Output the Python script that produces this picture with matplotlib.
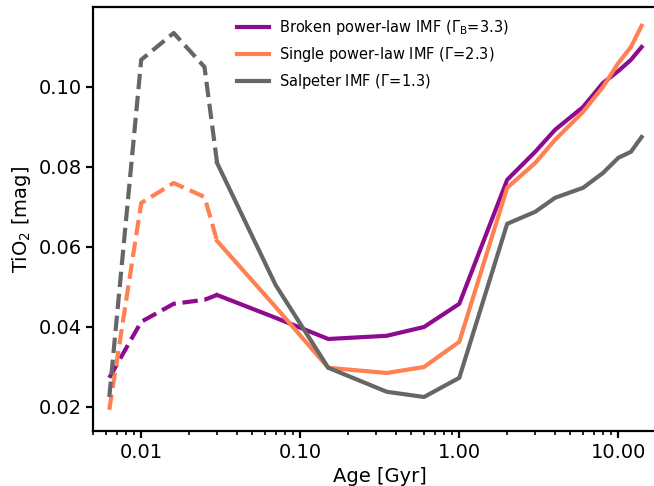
import numpy as np
import matplotlib
matplotlib.use("Agg")
import matplotlib.pyplot as plt
from matplotlib.ticker import FixedLocator, FormatStrFormatter, LogLocator, NullFormatter

# ages [Gyr] and TiO2 index for each IMF
age = [0.0063, 0.01, 0.016, 0.025, 0.03, 0.07, 0.15, 0.35, 0.6, 1.0,
       2.0, 3.0, 4.0, 6.0, 8.0, 10.0, 12.0, 14.0]
tio2_broken = [0.0273, 0.0413, 0.0458, 0.0468, 0.048, 0.0423, 0.037, 0.0378, 0.040, 0.0458,
               0.0768, 0.0838, 0.0893, 0.095, 0.101, 0.104, 0.1068, 0.110]
tio2_single = [0.0193, 0.071, 0.076, 0.0725, 0.0615, 0.045, 0.0298, 0.0285, 0.030, 0.0363,
               0.0748, 0.081, 0.0868, 0.0938, 0.100, 0.106, 0.110, 0.1153]
tio2_salp = [0.0225, 0.1068, 0.1135, 0.105, 0.081, 0.0505, 0.0298, 0.0238, 0.0225, 0.0273,
             0.0658, 0.0688, 0.0723, 0.0748, 0.0785, 0.0823, 0.0838, 0.0875]

labels = [r'Broken power-law IMF ($\Gamma_{\rm B}$=3.3)',
          r'Single power-law IMF ($\Gamma$=2.3)',
          r'Salpeter IMF ($\Gamma$=1.3)']
colors = ['#8e0a8e', '#ff8050', '#666666']
age_cut = 0.03  # young ages drawn dashed

fig = plt.figure(figsize=(6.54, 4.86), dpi=100)
ax = fig.add_axes([0.1427, 0.1132, 0.876, 0.8724])

a = np.array(age)
young = a <= age_cut
old = a >= age_cut
for y, c, lab in zip([tio2_broken, tio2_single, tio2_salp], colors, labels):
    y = np.array(y)
    ax.plot(a[young], y[young], color=c, lw=3, ls='--')
    ax.plot(a[old], y[old], color=c, lw=3, label=lab)

ax.set_xscale('log')
ax.set_xlim(0.005, 20)
ax.set_ylim(0.014, 0.12)
ax.xaxis.set_major_locator(FixedLocator([0.01, 0.1, 1.0, 10.0]))
ax.xaxis.set_major_formatter(FormatStrFormatter('%.2f'))
ax.xaxis.set_minor_locator(LogLocator(base=10, subs=np.arange(2, 10)))
ax.xaxis.set_minor_formatter(NullFormatter())
ax.set_yticks([0.02, 0.04, 0.06, 0.08, 0.10])
ax.yaxis.set_major_formatter(FormatStrFormatter('%.2f'))

for s in ax.spines.values():
    s.set_linewidth(1.6)
ax.tick_params(which='major', direction='out', length=5, width=1.6, labelsize=14)
ax.tick_params(which='minor', direction='out', length=3, width=1.2)

ax.set_xlabel('Age [Gyr]', fontsize=14)
ax.set_ylabel(r'TiO$_2$ [mag]', fontsize=14)

ax.legend(loc='upper left', bbox_to_anchor=(0.342, 0.99), bbox_transform=fig.transFigure,
          frameon=False, fontsize=10.5, handlelength=2.2, handletextpad=0.7,
          labelspacing=0.55)

fig.savefig('out.png', dpi=100)
